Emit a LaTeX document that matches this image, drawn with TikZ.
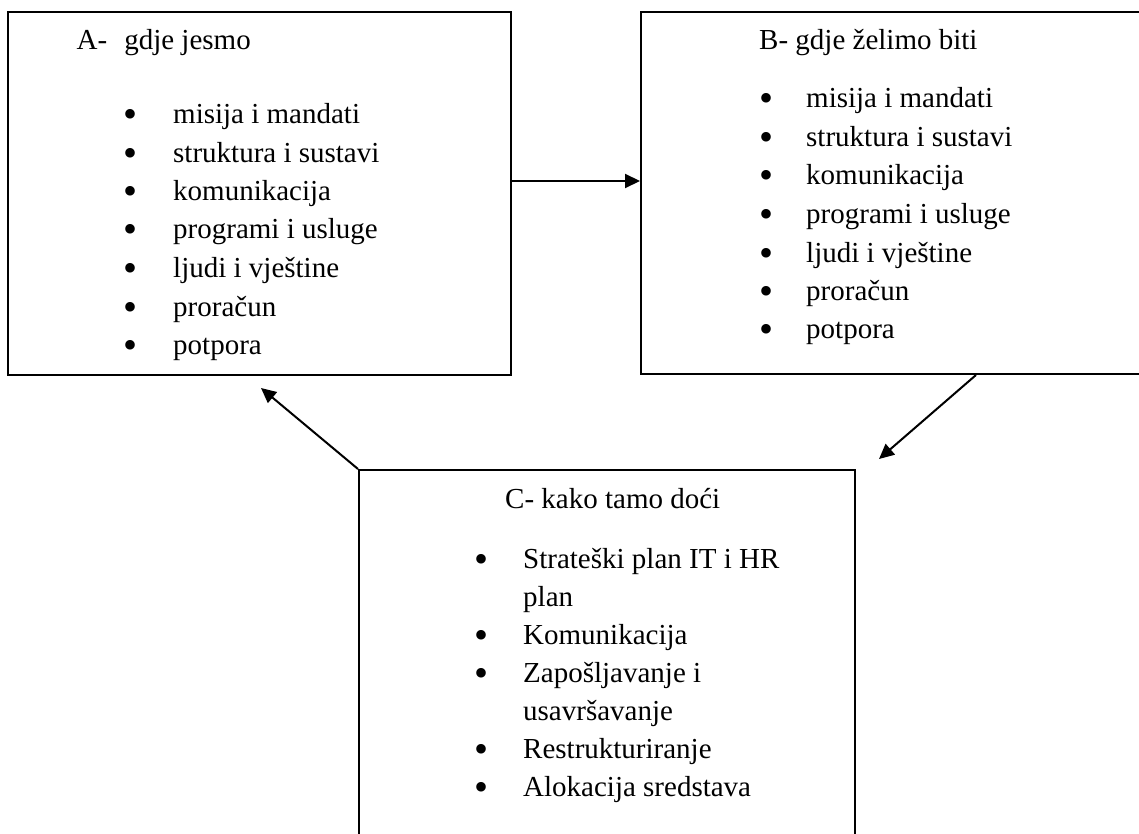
\documentclass[tikz,border=0pt]{standalone}
\usepackage{fontspec}
\setmainfont{Liberation Serif}
\usetikzlibrary{positioning, arrows.meta}
\tikzset{
every node/.style={font=\fontsize{29}{38}\selectfont},
box/.style={draw, rectangle, line width=2pt, inner sep=0pt},
item/.style={anchor=base west, inner sep=0pt},
dot/.style={anchor=base, inner sep=0pt, yshift=-4pt, font=\fontsize{40}{38}\selectfont},
arr/.style={line width=2pt, -{Triangle[length=15pt, width=14pt]}},
}

\begin{document}
\begin{tikzpicture}[x=1pt, y=-1pt]
    \useasboundingbox (0,0) rectangle (1139,834);
    \clip (0,0) rectangle (1139,834);

    %boxes
    \node[box, minimum width=503pt, minimum height=363pt] (bA) at (259.5,193.5) {};
    \node[box, minimum width=519pt, minimum height=362pt] (bB) at (900.5,193) {};
    \node[box, minimum width=496pt, minimum height=400pt] (bC) at (607,670) {};

    %box A
    \node[item] (ta) at (76.5,50) {A-\hspace{17pt}gdje jesmo};
    \node[dot]  (da1) at (131,124) {•};
    \node[item] (a1)  at (173,124) {misija i mandati};
    \node[dot]  (da2) at (131,163) {•};
    \node[item] (a2)  at (173,163) {struktura i sustavi};
    \node[dot]  (da3) at (131,201) {•};
    \node[item] (a3)  at (173,201) {komunikacija};
    \node[dot]  (da4) at (131,239) {•};
    \node[item] (a4)  at (173,239) {programi i usluge};
    \node[dot]  (da5) at (131,277) {•};
    \node[item] (a5)  at (173,277) {ljudi i vještine};
    \node[dot]  (da6) at (131,316) {•};
    \node[item] (a6)  at (173,316) {proračun};
    \node[dot]  (da7) at (131,354) {•};
    \node[item] (a7)  at (173,354) {potpora};

    %box B
    \node[item] (tb) at (759,50) {B- gdje želimo biti};
    \node[dot]  (db1) at (766,108) {•};
    \node[item] (b1)  at (806,108) {misija i mandati};
    \node[dot]  (db2) at (766,147) {•};
    \node[item] (b2)  at (806,147) {struktura i sustavi};
    \node[dot]  (db3) at (766,185) {•};
    \node[item] (b3)  at (806,185) {komunikacija};
    \node[dot]  (db4) at (766,223) {•};
    \node[item] (b4)  at (806,223) {programi i usluge};
    \node[dot]  (db5) at (766,262) {•};
    \node[item] (b5)  at (806,262) {ljudi i vještine};
    \node[dot]  (db6) at (766,300) {•};
    \node[item] (b6)  at (806,300) {proračun};
    \node[dot]  (db7) at (766,338) {•};
    \node[item] (b7)  at (806,338) {potpora};

    %box C
    \node[item] (tc) at (505,508) {C- kako tamo doći};
    \node[dot]  (dc1) at (481,568) {•};
    \node[item] (c1)  at (523,568) {Strateški plan IT i HR};
    \node[item] (c1b) at (523,606) {plan};
    \node[dot]  (dc2) at (481,644) {•};
    \node[item] (c2)  at (523,644) {Komunikacija};
    \node[dot]  (dc3) at (481,682) {•};
    \node[item] (c3)  at (523,682) {Zapošljavanje i};
    \node[item] (c3b) at (523,720) {usavršavanje};
    \node[dot]  (dc4) at (481,758) {•};
    \node[item] (c4)  at (523,758) {Restrukturiranje};
    \node[dot]  (dc5) at (481,796) {•};
    \node[item] (c5)  at (523,796) {Alokacija sredstava};

    %arrows
    \coordinate (tC) at (879,459);
    \coordinate (tA) at (261,388);
    \draw[arr] ([yshift=12.5pt]bA.east) -- ([yshift=12.5pt]bA.east -| bB.west);
    \draw[arr] ([xshift=75.5pt]bB.south) -- (tC);
    \draw[arr] (bC.north west) -- (tA);

\end{tikzpicture}
\end{document}
